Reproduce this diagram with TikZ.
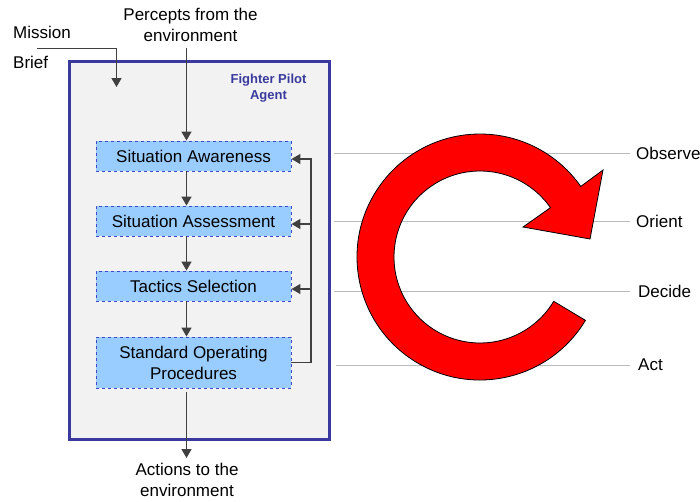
\documentclass[tikz,border=0pt]{standalone}
\usepackage{fontspec}
\setmainfont{Liberation Sans}
\usetikzlibrary{arrows.meta,calc}
\definecolor{agentblue}{HTML}{3A3A9E}
\definecolor{boxfill}{HTML}{99CCFF}
\definecolor{boxedge}{HTML}{3F48CC}
\definecolor{arrowgray}{HTML}{404040}
\definecolor{guidegray}{HTML}{BBBBBB}
\definecolor{panel}{HTML}{F2F2F2}
\begin{document}
\begin{tikzpicture}[x=1pt,y=-1pt,
  txt/.style={font=\fontsize{17}{21}\selectfont, inner sep=0pt, align=center},
  oodalabel/.style={font=\fontsize{17}{21}\selectfont, inner xsep=5pt, inner ysep=0pt, anchor=west},
  stagebox/.style={draw=boxedge, dashed, line width=0.9pt, fill=boxfill,
    minimum width=195pt, minimum height=30pt, inner sep=0pt, align=center,
    font=\fontsize{17}{21}\selectfont},
  flow/.style={draw=arrowgray, line width=1.5pt, -{Triangle[width=10pt,length=9pt]}},
  guide/.style={draw=guidegray, line width=1pt}]
\useasboundingbox (0,0) rectangle (700,501);

% agent panel
\node[draw=agentblue, line width=3pt, fill=panel, minimum width=260pt,
  minimum height=378pt, inner sep=0pt] (agent) at (199.5,250.5) {};
\node[font=\bfseries\fontsize{13}{16}\selectfont, text=agentblue, align=center,
  inner sep=0pt] (agentlbl) at (268.5,88) {Fighter Pilot\\Agent};

% stages
\node[stagebox] (sa)  at (193.5,156) {Situation Awareness};
\node[stagebox] (sas) at (193.5,221) {Situation Assessment};
\node[stagebox] (ts)  at (193.5,286) {Tactics Selection};
\node[stagebox, minimum height=51pt] (sop) at (193.5,362.5) {Standard Operating\\Procedures};

% outside texts
\node[txt] (percepts) at (190.5,24.5) {Percepts from the\\environment};
\node[txt] (actions) at (187,479.5) {Actions to the\\environment};
\node[txt, anchor=west] (mission) at (13,32) {Mission};
\node[txt, anchor=west] (brief) at (13,62) {Brief};

\coordinate (pin) at (186.5,48);
\coordinate (pout) at (186.5,458);
\coordinate (mstart) at (37,48.5);
\coordinate (mend) at (116.5,87);
\coordinate (fbtop) at (311,159);

% flow arrows
\draw[flow] (mstart) -| (mend);
\draw[flow] (pin) -- ([xshift=-7pt]sa.north);
\draw[flow] ([xshift=-7pt]sa.south) -- ([xshift=-7pt]sas.north);
\draw[flow] ([xshift=-7pt]sas.south) -- ([xshift=-7pt]ts.north);
\draw[flow] ([xshift=-7pt]ts.south) -- ([xshift=-7pt]sop.north);
\draw[flow, shorten <=4pt] ([xshift=-7pt]sop.south) -- (pout);

% feedback
\draw[flow] (sop.east) -| (fbtop) -- ([yshift=-3pt]sa.east);
\draw[flow] ([yshift=-3pt]sas.east -| fbtop) -- ([yshift=-3pt]sas.east);
\draw[flow] ([yshift=-3pt]ts.east -| fbtop) -- ([yshift=-3pt]ts.east);

% OODA labels and guide lines
\node[oodalabel] (observe) at (631,153) {Observe};
\node[oodalabel] (orient) at (631,221) {Orient};
\node[oodalabel] (decide) at (633,291) {Decide};
\node[oodalabel] (act) at (633,365) {Act};
\coordinate (g1) at (334,153);
\coordinate (g2) at (334,221);
\coordinate (g3) at (334,291);
\coordinate (g4) at (336,365);
\draw[guide] (g1) -- ([xshift=-1pt]observe.west);
\draw[guide] (g2) -- ([xshift=-1pt]orient.west);
\draw[guide] (g3) -- ([xshift=-3pt]decide.west);
\draw[guide] (g4) -- ([xshift=-3pt]act.west);

% big red circular arrow
\coordinate (C) at (480,257);
\draw[fill=red, draw=black, line width=0.8pt, line join=miter]
  ([shift={(-35:123)}]C) -- (603,170) -- (590,239) -- (523,227)
  -- ([shift={(-35:86)}]C) arc[start angle=-35, end angle=-329, radius=86]
  -- ([shift={(31:123)}]C) arc[start angle=31, end angle=325, radius=123]
  -- cycle;
\end{tikzpicture}
\end{document}
